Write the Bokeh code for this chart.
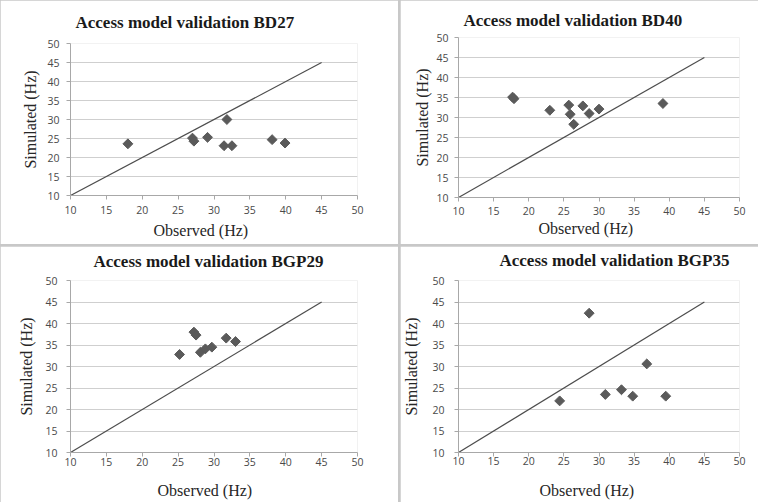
from bokeh.plotting import figure
from bokeh.layouts import row, column
from bokeh.models import Range1d, FixedTicker, Title
from bokeh.embed import file_html
from bokeh.resources import INLINE

# ---- data ----
ticks = [10, 15, 20, 25, 30, 35, 40, 45, 50]
line_x = [10, 45]
line_y = [10, 45]

bd27_obs = [18.0, 27.0, 27.2, 29.1, 31.8, 31.4, 32.5, 38.1, 39.9]
bd27_sim = [23.6, 25.1, 24.3, 25.3, 30.0, 23.1, 23.1, 24.7, 23.8]

bd40_obs = [17.7, 17.9, 23.0, 25.7, 25.9, 26.4, 27.7, 28.6, 30.0, 39.1]
bd40_sim = [35.1, 34.7, 31.8, 33.1, 30.8, 28.3, 32.9, 31.0, 32.1, 33.5]

bgp29_obs = [25.2, 27.2, 27.5, 28.1, 28.8, 29.7, 31.7, 33.0]
bgp29_sim = [32.8, 38.0, 37.3, 33.3, 34.1, 34.5, 36.6, 35.8]

bgp35_obs = [24.4, 28.6, 30.9, 33.2, 34.8, 36.8, 39.5]
bgp35_sim = [22.0, 42.4, 23.5, 24.6, 23.1, 30.6, 23.1]

titles = ["Access model validation BD27", "Access model validation BD40",
          "Access model validation BGP29", "Access model validation BGP35"]
x_title = "Observed (Hz)"
y_title = "Simulated (Hz)"

SERIF = "Liberation Serif"
SANS = "Open Sans"
MARK = "#5a5a5a"
GRID = "#cfcfcf"
AXIS = "#a8a8a8"


def spacer(gap):
    # blank, white title used only to keep a real title away from the frame
    return Title(text=" ", text_font_size="3px", text_color="white", standoff=gap)


def panel(title, obs, sim, w, h, bl, br, bt, bb, xstand, ystand, ylab_stand,
          t_off, t_gap, x_off, x_gap, x_stand):
    p = figure(width=w, height=h, x_range=Range1d(10, 50), y_range=Range1d(10, 50),
               output_backend="svg", toolbar_location=None,
               min_border_left=bl, min_border_right=br,
               min_border_top=bt, min_border_bottom=bb)
    p.outline_line_color = None
    p.background_fill_color = "white"
    p.border_fill_color = "white"
    p.xgrid.grid_line_color = None
    p.ygrid.grid_line_color = GRID
    p.ygrid.grid_line_width = 1
    for ax in (p.xaxis, p.yaxis):
        ax.ticker = FixedTicker(ticks=ticks)
        ax.axis_line_color = AXIS
        ax.major_tick_line_color = AXIS
        ax.major_tick_out = 4
        ax.major_tick_in = 0
        ax.minor_tick_line_color = None
        ax.major_label_text_font = SANS
        ax.major_label_text_font_size = "10.5px"
        ax.major_label_text_color = "#4a4a4a"
    p.xaxis.major_label_standoff = xstand
    p.yaxis.major_label_standoff = ystand
    p.yaxis.axis_label = y_title
    p.yaxis.axis_label_text_font = SERIF
    p.yaxis.axis_label_text_font_style = "normal"
    p.yaxis.axis_label_text_font_size = "16px"
    p.yaxis.axis_label_text_color = "#262626"
    p.yaxis.axis_label_standoff = ylab_stand

    p.line(line_x, line_y, line_color="#4d4d4d", line_width=1.2)
    p.scatter(obs, sim, marker="square", angle=0.785398, size=7,
              fill_color=MARK, line_color=MARK)

    p.add_layout(spacer(t_gap), "above")
    p.add_layout(Title(text=title, align="left", offset=t_off, standoff=0,
                       text_font=SERIF, text_font_style="bold",
                       text_font_size="17px", text_color="#1a1a1a"), "above")
    if x_gap is not None:
        p.add_layout(spacer(x_gap), "below")
    p.add_layout(Title(text=x_title, align="left", offset=x_off, standoff=x_stand,
                       text_font=SERIF, text_font_style="normal",
                       text_font_size="16px", text_color="#262626"), "below")
    return p


p1 = panel(titles[0], bd27_obs, bd27_sim, 398, 244, 70, 41, 43, 49, 6, 7, 5,
           5, 7, 83, None, 6)
p2 = panel(titles[1], bd40_obs, bd40_sim, 358, 244, 56, 19, 37, 47, 5, 6, 2,
           5, 3, 80, None, 0)
p3 = panel(titles[2], bgp29_obs, bgp29_sim, 398, 256, 63, 26, 34, 50, 1, 9, 7,
           23, 5, 87, 6, 0)
p4 = panel(titles[3], bgp35_obs, bgp35_sim, 358, 256, 55, 8, 34, 50, 0, 10, 9,
           41, 6, 81, 7, 0)

left = column(p1, p3, spacing=2)
right = column(p2, p4, spacing=2)
layout = row(left, right, spacing=2, styles={"background-color": "#c8c8c8"})

open("out.html", "w").write(file_html(layout, INLINE))
